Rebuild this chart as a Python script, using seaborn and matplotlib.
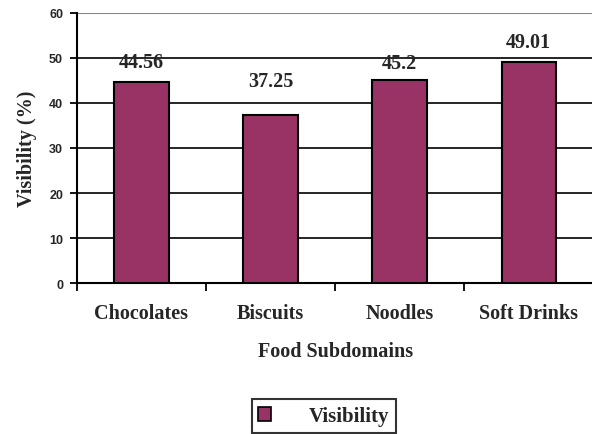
import matplotlib
matplotlib.use("Agg")
import matplotlib.pyplot as plt
import seaborn as sns
import pandas as pd
from matplotlib.patches import Patch

categories = ["Chocolates", "Biscuits", "Noodles", "Soft Drinks"]
visibility = [44.56, 37.25, 45.2, 49.01]
value_labels = ["44.56", "37.25", "45.2", "49.01"]
y_ticks = [0, 10, 20, 30, 40, 50, 60]

df = pd.DataFrame({"Subdomain": categories, "Visibility": visibility})

sns.set_theme(style="white")
plt.rcParams["font.family"] = ["Liberation Serif", "DejaVu Serif"]

fig = plt.figure(figsize=(5.92, 4.35), dpi=100)
ax = fig.add_axes([0.130, 0.347, 0.872, 0.621])

bar_color = "#993366"
sns.barplot(data=df, x="Subdomain", y="Visibility", color=bar_color,
            width=0.42, edgecolor="black", linewidth=1.5, saturation=1,
            ax=ax, zorder=3)

ax.set_ylim(0, 60)
ax.set_xlim(-0.5, 3.5)
ax.set_yticks(y_ticks)
ax.set_yticklabels([str(t) for t in y_ticks], fontfamily="Liberation Sans",
                   fontweight="bold", fontsize=9)

# horizontal gridlines: black inside, grey at the top
for t in y_ticks[1:-1]:
    ax.axhline(t, color="black", linewidth=1.2, zorder=1)
ax.axhline(60, color="#888888", linewidth=1.5, zorder=1)

for side in ["top", "right"]:
    ax.spines[side].set_visible(False)
ax.spines["left"].set_color("black")
ax.spines["left"].set_linewidth(1.5)
ax.spines["bottom"].set_color("black")
ax.spines["bottom"].set_linewidth(1.5)

# category ticks sit on the boundaries between bars
ax.set_xticks([i + 0.5 for i in range(-1, len(categories))], minor=True)
ax.tick_params(axis="x", which="minor", bottom=True, length=6, width=1.3,
               color="black", direction="out")
ax.tick_params(axis="x", which="major", bottom=False, pad=8.5)
ax.tick_params(axis="y", left=True, length=5, width=1.3, color="black",
               direction="out", pad=5)
ax.set_xticks(range(len(categories)))
ax.set_xticklabels(categories, fontsize=14.5, fontweight="bold")

ax.set_xlabel("Food Subdomains", fontsize=14.5, fontweight="bold", labelpad=13)
ax.set_ylabel("Visibility (%)", fontsize=14.5, fontweight="bold", labelpad=8.5)

# value labels above each bar
label_gap = [2.4, 5.5, 1.4, 2.4]
for i, (v, txt) in enumerate(zip(visibility, value_labels)):
    ax.text(i, v + label_gap[i], txt, ha="center", va="bottom",
            fontsize=14.5, fontweight="bold", zorder=4, clip_on=False)

handles = [Patch(facecolor=bar_color, edgecolor="black", linewidth=1.2,
                 label="Visibility")]
leg = fig.legend(handles=handles, loc="center", bbox_to_anchor=(0.547, 0.041),
                 frameon=True, fancybox=False, edgecolor="black",
                 prop={"weight": "bold", "size": 15}, handlelength=0.62,
                 handleheight=0.62, handletextpad=1.8, borderpad=0.32)
leg.get_frame().set_linewidth(1.5)

fig.savefig("out.png", dpi=100)
